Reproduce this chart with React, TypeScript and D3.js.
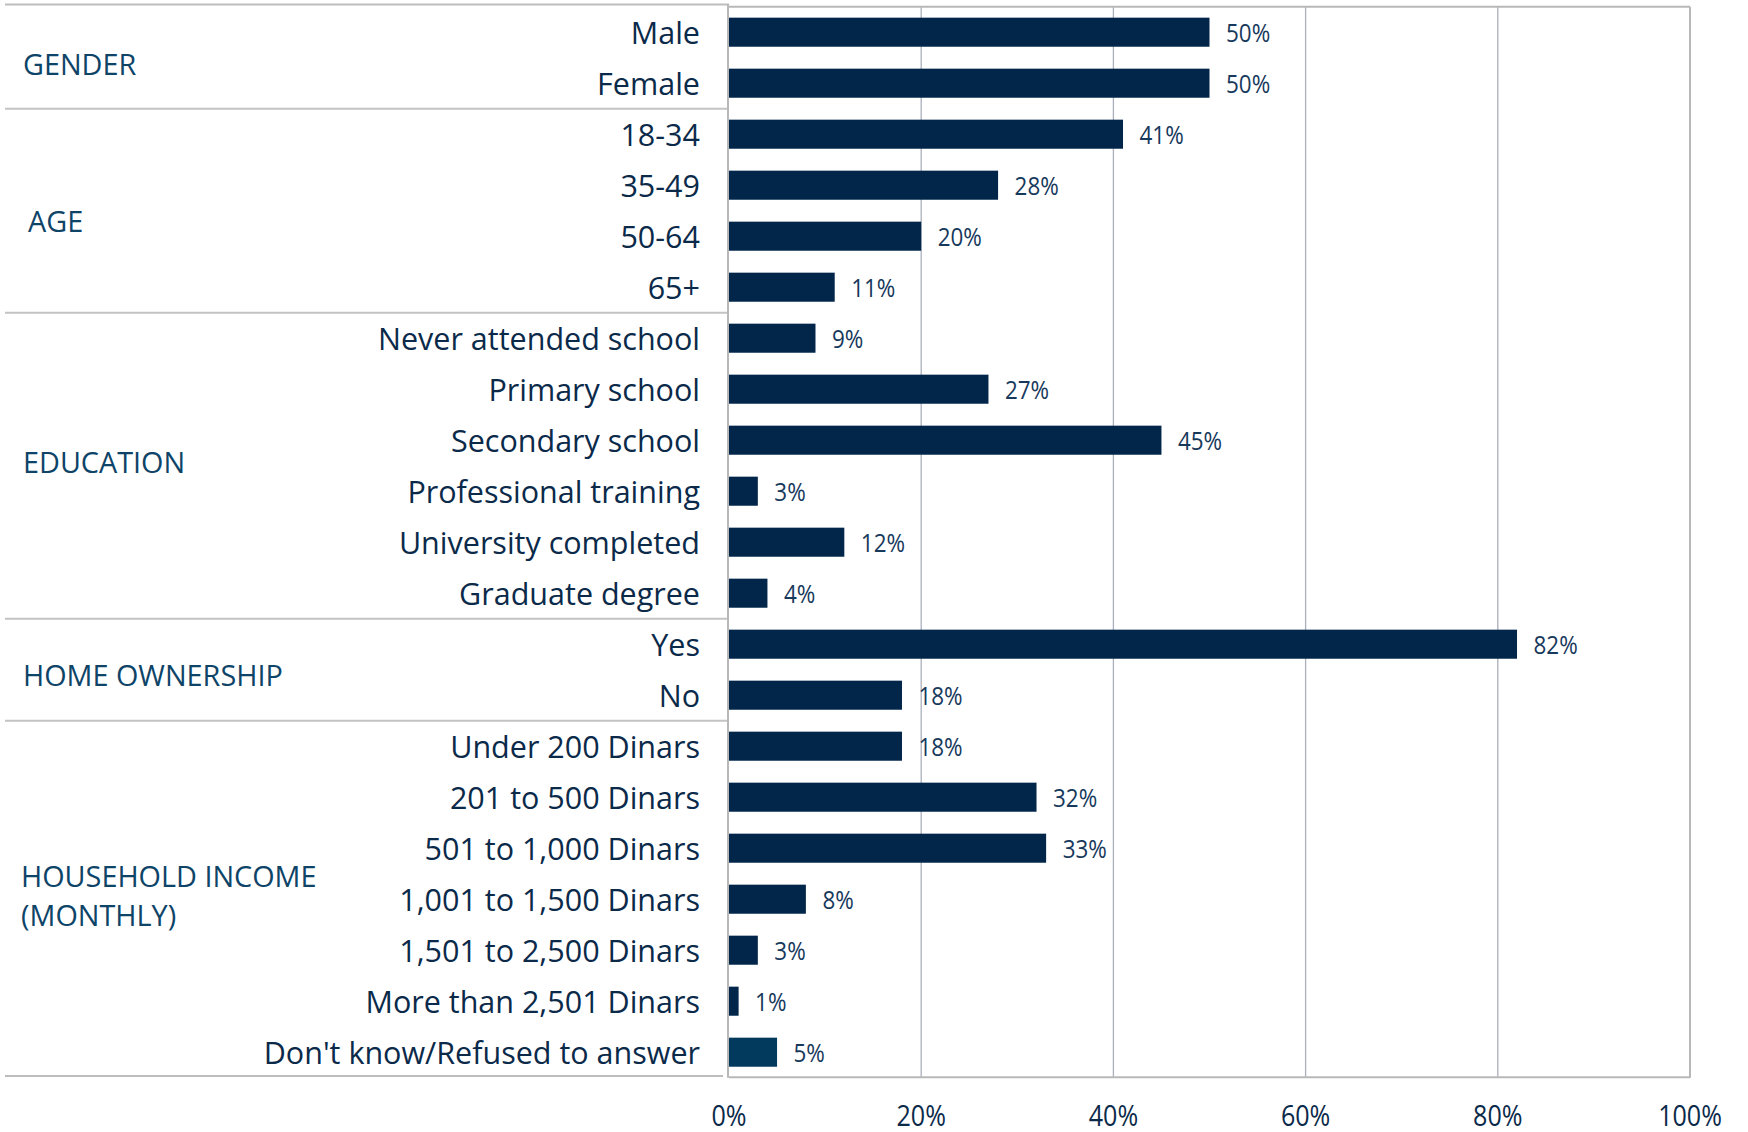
import React from "react";
import * as d3 from "d3";

const categories = [
  "Male", "Female",
  "18-34", "35-49", "50-64", "65+",
  "Never attended school", "Primary school", "Secondary school", "Professional training", "University completed", "Graduate degree",
  "Yes", "No",
  "Under 200 Dinars", "201 to 500 Dinars", "501 to 1,000 Dinars", "1,001 to 1,500 Dinars", "1,501 to 2,500 Dinars", "More than 2,501 Dinars", "Don't know/Refused to answer",
];
const values = [50, 50, 41, 28, 20, 11, 9, 27, 45, 3, 12, 4, 82, 18, 18, 32, 33, 8, 3, 1, 5];
const groupNames = [["GENDER"], ["AGE"], ["EDUCATION"], ["HOME OWNERSHIP"], ["HOUSEHOLD INCOME", "(MONTHLY)"]];
const groupSizes = [2, 4, 6, 2, 7];
const xTicks = [0, 20, 40, 60, 80, 100];

const W = 1748, H = 1132;
const X0 = 729, X1 = 1690;
const Y0 = 6.7, Y1 = 1077.7;
const TABLE_LEFT = 5;
const LABEL_RIGHT = 700;
const groupNudge = [6, 10, -4, 5, -4];
const groupX = [23, 28, 23, 23, 21];

const BAR = "#02264a";
const BAR_LAST = "#023a5e";
const TEXT = "#0b2a4a";
const GROUP_TEXT = "#0e4468";
const VAL_TEXT = "#17395c";
const FONT = "'Open Sans', 'Noto Sans', sans-serif";

export default function App() {
  const x = d3.scaleLinear().domain([0, 100]).range([X0, X1]);
  const y = d3.scaleBand<number>()
    .domain(d3.range(categories.length))
    .range([Y0, Y1])
    .paddingInner(0.43)
    .paddingOuter(0.215);
  const step = y.step();
  const bw = y.bandwidth();

  const bounds: number[] = [0];
  groupSizes.forEach((s) => bounds.push(bounds[bounds.length - 1] + s));
  const rowTop = (i: number) => Y0 + i * step;

  return (
    <svg width={W} height={H} style={{ position: "absolute", left: 0, top: 0, background: "#fff" }}>
      {/* gridlines */}
      {xTicks.slice(1, -1).map((t) => (
        <line key={"g" + t} x1={x(t)} x2={x(t)} y1={Y0} y2={Y1} stroke="#aab0bc" strokeWidth={1.3} />
      ))}
      {/* table lines */}
      <line x1={TABLE_LEFT} x2={X0} y1={4.5} y2={4.5} stroke="#bdbdbd" strokeWidth={2} />
      {bounds.slice(1, -1).map((b) => (
        <line key={"s" + b} x1={TABLE_LEFT} x2={X0} y1={rowTop(b)} y2={rowTop(b)} stroke="#c3c3c3" strokeWidth={2} />
      ))}
      <line x1={TABLE_LEFT} x2={723} y1={1076} y2={1076} stroke="#bdbdbd" strokeWidth={2} />
      {/* bars */}
      {values.map((v, i) => (
        <rect
          key={"b" + i}
          x={x(0)}
          y={y(i)!}
          width={x(v) - x(0)}
          height={bw}
          fill={i === values.length - 1 ? BAR_LAST : BAR}
        />
      ))}
      {/* plot border */}
      <line x1={X0} x2={X1} y1={Y0} y2={Y0} stroke="#b8b8b8" strokeWidth={2} />
      <line x1={X1} x2={X1} y1={Y0} y2={Y1} stroke="#b8b8b8" strokeWidth={2} />
      <line x1={X0} x2={X1} y1={Y1 - 0.5} y2={Y1 - 0.5} stroke="#b8b8b8" strokeWidth={2} />
      <line x1={X0 - 1} x2={X0 - 1} y1={4} y2={Y1} stroke="#b8b8b8" strokeWidth={2} />
      {/* value labels */}
      {values.map((v, i) => (
        <text
          key={"v" + i}
          transform={`translate(${x(v) + 16.5},${y(i)! + bw / 2}) scale(0.88,1)`}
          dominantBaseline="central"
          fontFamily={FONT}
          fontSize={25.5}
          fill={VAL_TEXT}
        >
          {v + "%"}
        </text>
      ))}
      {/* category labels */}
      {categories.map((c, i) => (
        <text
          key={"c" + i}
          x={LABEL_RIGHT}
          y={y(i)! + bw / 2}
          textAnchor="end"
          dominantBaseline="central"
          fontFamily={FONT}
          fontSize={30.5}
          fill={TEXT}
        >
          {c}
        </text>
      ))}
      {/* group labels */}
      {groupNames.map((lines, gi) => {
        const cy = (rowTop(bounds[gi]) + rowTop(bounds[gi + 1])) / 2 + groupNudge[gi];
        const lh = 39;
        return lines.map((ln, li) => (
          <text
            key={"gl" + gi + "_" + li}
            transform={`translate(${groupX[gi]},${cy + (li - (lines.length - 1) / 2) * lh}) scale(0.96,1)`}
            dominantBaseline="central"
            fontFamily={FONT}
            fontSize={30}
            fill={GROUP_TEXT}
          >
            {ln}
          </text>
        ));
      })}
      {/* x tick labels */}
      {xTicks.map((t) => (
        <text
          key={"t" + t}
          transform={`translate(${x(t)},1115) scale(0.88,1)`}
          textAnchor="middle"
          dominantBaseline="central"
          fontFamily={FONT}
          fontSize={28.5}
          fill={TEXT}
        >
          {t + "%"}
        </text>
      ))}
    </svg>
  );
}
